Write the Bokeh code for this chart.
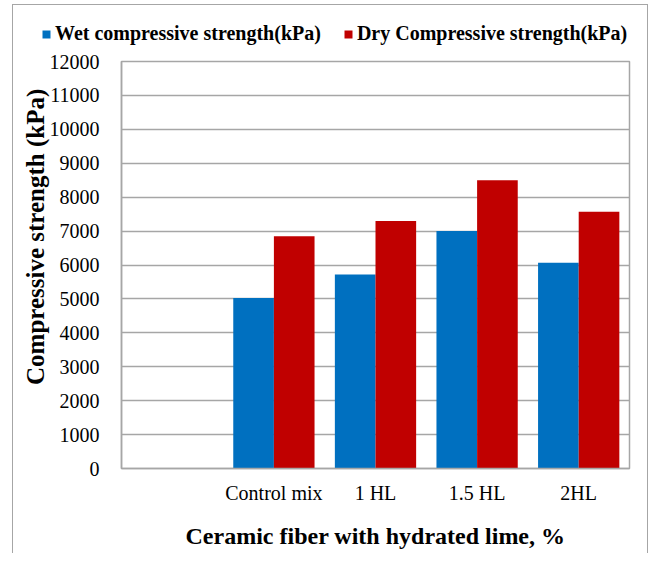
from bokeh.plotting import figure
from bokeh.models import FixedTicker, Legend, LegendItem, ColumnDataSource, Spacer
from bokeh.layouts import column, row
from bokeh.embed import file_html
from bokeh.resources import INLINE

categories = ["", "Control mix", "1 HL", "1.5 HL", "2HL"]
series_names = ["Wet compressive strength(kPa)", "Dry Compressive strength(kPa)"]
wet = [None, 5030, 5720, 7000, 6070]
dry = [None, 6850, 7300, 8500, 7570]
y_ticks = list(range(0, 12001, 1000))

FONT = "Liberation Serif"
BLUE = "#0070C0"
RED = "#C00000"
GRID = "#A6A6A6"
BORDER = "1px solid #A6A6A6"
INNER_W = 634

idx = [i for i in range(len(categories)) if wet[i] is not None]
src = ColumnDataSource(dict(
    xw=[i + 0.3 for i in idx],
    xd=[i + 0.7 for i in idx],
    wet=[wet[i] for i in idx],
    dry=[dry[i] for i in idx],
))

# ---- main chart ----
p = figure(frame_width=508, frame_height=407, output_backend="svg", toolbar_location=None,
           x_range=(0, len(categories)), y_range=(0, 12000))
p.min_border_left = 108
p.min_border_right = INNER_W - 108 - 508
p.min_border_top = 10
p.min_border_bottom = 85
p.background_fill_color = "white"
p.border_fill_color = "white"
p.outline_line_color = GRID
p.outline_line_width = 1.5

p.vbar(x="xw", top="wet", width=0.4, source=src, fill_color=BLUE, line_color=None)
p.vbar(x="xd", top="dry", width=0.4, source=src, fill_color=RED, line_color=None)

p.xaxis.ticker = FixedTicker(ticks=[i + 0.5 for i in range(len(categories))])
p.xaxis.major_label_overrides = {i + 0.5: c for i, c in enumerate(categories)}
p.yaxis.ticker = FixedTicker(ticks=y_ticks)
for ax in (p.xaxis[0], p.yaxis[0]):
    ax.major_tick_line_color = None
    ax.minor_tick_line_color = None
    ax.axis_line_color = GRID
    ax.axis_line_width = 1.5
    ax.major_label_text_font = FONT
    ax.major_label_text_font_size = "20px"
    ax.major_label_text_color = "black"
    ax.axis_label_text_font = FONT
    ax.axis_label_text_font_style = "bold"
    ax.axis_label_text_color = "black"
p.xaxis.major_label_standoff = 7
p.yaxis.major_label_standoff = 16
p.xaxis.axis_label = "Ceramic fiber with hydrated lime, %"
p.xaxis.axis_label_text_font_size = "24px"
p.xaxis.axis_label_standoff = 16
# leading no-break spaces lift the rotated title slightly, as in the original
p.yaxis.axis_label = "\u00a0" * 9 + "Compressive strength (kPa)"
p.yaxis.axis_label_text_font_size = "25px"
p.yaxis.axis_label_standoff = -2

p.xgrid.grid_line_color = None
p.ygrid.grid_line_color = GRID
p.ygrid.grid_line_width = 1.5

# ---- legend strip ----
lg = figure(frame_width=INNER_W, frame_height=46, output_backend="svg", toolbar_location=None,
            x_range=(0, 1), y_range=(0, 1), min_border=0)
lg.min_border_left = lg.min_border_right = lg.min_border_top = lg.min_border_bottom = 0
lg.axis.visible = False
lg.grid.visible = False
lg.outline_line_color = None
lg.background_fill_color = "white"
lg.border_fill_color = "white"
dummy = ColumnDataSource(dict(x=[-10], top=[-10]))
lw = lg.vbar(x="x", top="top", width=0.1, source=dummy, fill_color=BLUE, line_color=None)
ld = lg.vbar(x="x", top="top", width=0.1, source=dummy, fill_color=RED, line_color=None)

legend = Legend(items=[
    LegendItem(label=series_names[0], renderers=[lw]),
    LegendItem(label=series_names[1], renderers=[ld]),
], orientation="horizontal", location=(28, 6))
legend.glyph_width = 10
legend.glyph_height = 10
legend.label_standoff = 4
legend.spacing = 22
legend.padding = 0
legend.margin = 0
legend.border_line_color = None
legend.background_fill_alpha = 0
legend.label_text_font = FONT
legend.label_text_font_style = "bold"
legend.label_text_font_size = "20px"
legend.label_text_color = "black"
lg.add_layout(legend, "center")

box = column(lg, p, spacing=0,
             styles={"border-left": BORDER, "border-top": BORDER, "border-right": BORDER})
layout = row(Spacer(width=12, height=10), column(Spacer(width=10, height=4), box, spacing=0),
             spacing=0)

open("out.html", "w").write(file_html(layout, INLINE))
